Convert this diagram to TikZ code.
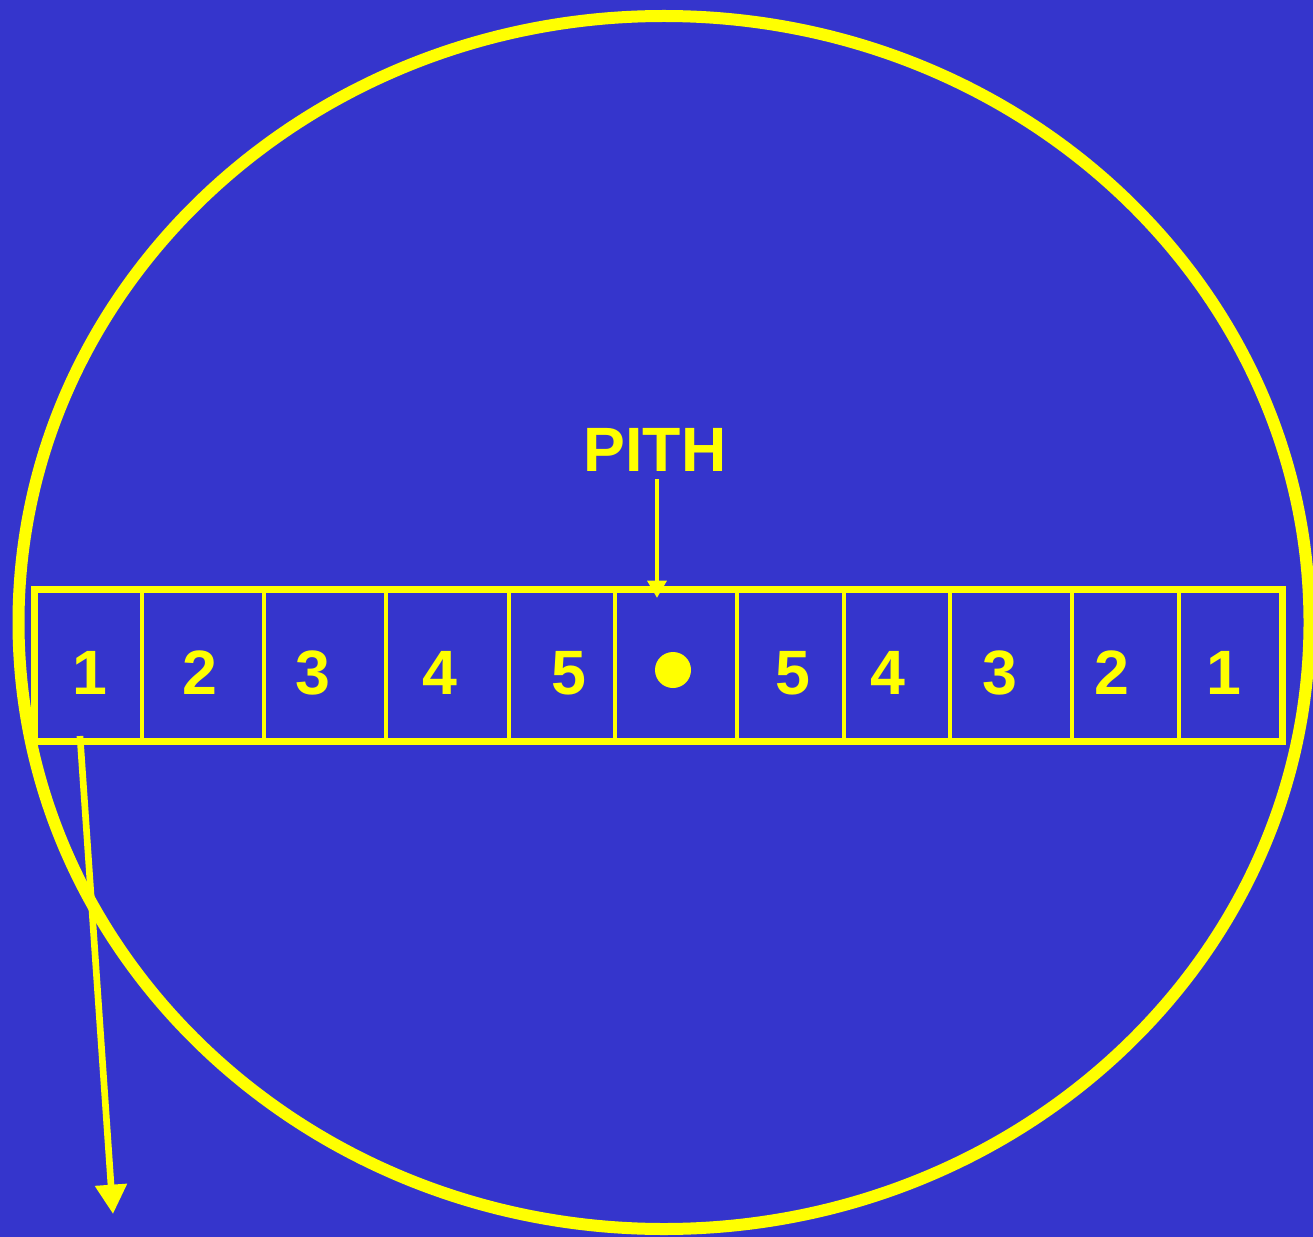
\documentclass[tikz,border=0pt]{standalone}
\usepackage{fontspec}
\setmainfont{Liberation Sans}
\usetikzlibrary{arrows.meta}
\definecolor{bg}{HTML}{3535CC}
\definecolor{yel}{HTML}{FFFF00}
\begin{document}
\begin{tikzpicture}[x=0.75pt,y=-0.75pt,
  cellbox/.style={draw=yel,line width=3pt,minimum height=111.75pt,inner sep=0pt},
  lbl/.style={text=yel,font=\fontsize{47}{50}\selectfont\bfseries,inner sep=0pt},
  yarrow/.style={draw=yel,line width=5pt}]
\fill[bg] (0,0) rectangle (1313,1237);
\useasboundingbox (0,0) rectangle (1313,1237);
\draw[yel,line width=9pt] (664,622.5) ellipse [x radius=645.5*0.75pt, y radius=606.5*0.75pt];
% cells
\foreach \a/\b [count=\i] in {35.5/142,142/264,264/386,386/509,509/615,615/737,737/844,844/950,950/1072,1072/1179,1179/1281}{
  \pgfmathsetmacro\w{(\b-\a)*0.75}
  \node[cellbox,minimum width=\w pt] (c\i) at ({(\a+\b)/2},665.5) {};
}
\draw[yel,line width=4.5pt] (c1.north west) rectangle (c11.south east);
% labels
\foreach \x/\t [count=\i] in {90/1,200/2,313/3,440/4,569/5,793/5,888/4,1000/3,1112/2,1224/1}{
  \node[lbl] (l\i) at (\x,673) {\t};
}
\fill[yel] (673,670) circle [radius=13.5pt];
\node[lbl] (pith) at (655,450) {PITH};
\draw[yarrow,line width=3.4pt,-{Triangle[length=13pt,width=14pt]}] (657,479) -- (657,598);
\coordinate (s) at (80,736);
\coordinate (e) at (113,1214);
\draw[yarrow,-{Triangle[length=22pt,width=23pt]}] (s) -- (e);
\end{tikzpicture}
\end{document}
